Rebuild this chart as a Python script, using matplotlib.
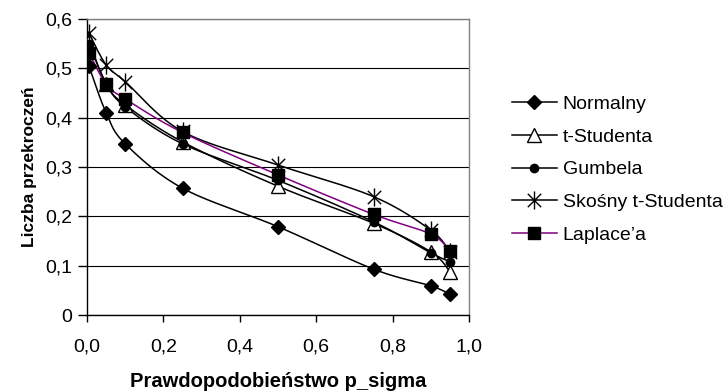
import numpy as np
import matplotlib
matplotlib.use("Agg")
import matplotlib.pyplot as plt
from matplotlib.path import Path
from matplotlib.ticker import FixedLocator, FuncFormatter

plt.rcParams['font.family'] = ['Liberation Sans', 'DejaVu Sans']

p_sigma = [0.005, 0.05, 0.1, 0.25, 0.5, 0.75, 0.9, 0.95]
normalny = [0.505, 0.410, 0.347, 0.257, 0.179, 0.093, 0.059, 0.042]
t_studenta = [0.555, 0.468, 0.426, 0.351, 0.261, 0.186, 0.128, 0.088]
gumbela = [0.550, 0.470, 0.422, 0.347, 0.273, 0.189, 0.126, 0.108]
skosny = [0.571, 0.507, 0.473, 0.372, 0.304, 0.240, 0.172, 0.128]
laplace = [0.532, 0.468, 0.438, 0.370, 0.284, 0.204, 0.164, 0.130]
labels = ["Normalny", "t-Studenta", "Gumbela", "Skośny t-Studenta", "Laplace\u2019a"]

SX, SY = 382.0, 493.0  # pixel scale used for smoothing


def smooth(xs, ys, n=30):
    P = np.column_stack([np.asarray(xs) * SX, np.asarray(ys) * SY])
    out = [P[0]]
    for i in range(len(P) - 1):
        p0 = P[i - 1] if i > 0 else P[i]
        p1, p2 = P[i], P[i + 1]
        p3 = P[i + 2] if i + 2 < len(P) else P[i + 1]
        c1 = p1 + (p2 - p0) / 6.0
        c2 = p2 - (p3 - p1) / 6.0
        t = np.linspace(0, 1, n)[1:, None]
        seg = ((1 - t) ** 3) * p1 + 3 * ((1 - t) ** 2) * t * c1 + 3 * (1 - t) * t ** 2 * c2 + t ** 3 * p2
        out.extend(seg)
    out = np.array(out)
    return out[:, 0] / SX, out[:, 1] / SY


ast = Path([(-1, -1), (1, 1), (-1, 1), (1, -1), (0, -1.35), (0, 1.35)],
           [Path.MOVETO, Path.LINETO, Path.MOVETO, Path.LINETO, Path.MOVETO, Path.LINETO])

series = [
    (normalny, dict(marker='D', ms=7, mfc='black', mec='black'), 'black'),
    (t_studenta, dict(marker='^', ms=10.5, mfc='white', mec='black', mew=1.0), 'black'),
    (gumbela, dict(marker='o', ms=6, mfc='black', mec='black'), 'black'),
    (skosny, dict(marker=ast, ms=13, mfc='none', mec='black', mew=1.0), 'black'),
    (laplace, dict(marker='s', ms=8, mfc='black', mec='black'), '#800080'),
]

fig = plt.figure(figsize=(7.27, 3.92), dpi=100)
ax = fig.add_axes([87 / 727, 1 - 315 / 392, (469 - 87) / 727, (315 - 19) / 392])

handles = []
for (ys, mk, col), lab in zip(series, labels):
    sx, sy = smooth(p_sigma, ys)
    ax.plot(sx, sy, color=col, lw=1.1, zorder=3)
    ax.plot(p_sigma, ys, ls='none', zorder=4, **mk)
    h, = ax.plot([], [], color=col, lw=1.1, **mk)
    handles.append(h)

ax.set_xlim(0, 1.0)
ax.set_ylim(0, 0.6)
ax.xaxis.set_major_locator(FixedLocator([0, 0.2, 0.4, 0.6, 0.8, 1.0]))
ax.yaxis.set_major_locator(FixedLocator([0, 0.1, 0.2, 0.3, 0.4, 0.5, 0.6]))
ax.xaxis.set_major_formatter(FuncFormatter(lambda v, p: f"{v:.1f}".replace('.', ',')))
ax.yaxis.set_major_formatter(FuncFormatter(lambda v, p: "0" if abs(v) < 1e-9 else f"{v:.1f}".replace('.', ',')))
ax.tick_params(axis='x', direction='out', length=5, width=1, labelsize=14, colors='black', pad=12)
ax.tick_params(axis='y', direction='out', length=6.5, width=1, labelsize=14, colors='black', pad=4)
ax.grid(axis='y', color='black', lw=0.8, zorder=1)
ax.set_axisbelow(True)
for s in ['left', 'bottom']:
    ax.spines[s].set_color('black')
    ax.spines[s].set_linewidth(1.0)
for s in ['top', 'right']:
    ax.spines[s].set_color('#808080')
    ax.spines[s].set_linewidth(1.0)

ax.set_xlabel("Prawdopodobieństwo p_sigma", fontsize=14.5, fontweight='bold', labelpad=12)
ax.set_ylabel("Liczba przekroczeń", fontsize=12.5, fontweight='bold', labelpad=6)

fig.legend(handles, labels, loc='center left', bbox_to_anchor=(512 / 727, 1 - 169.5 / 392),
           frameon=False, fontsize=14, handlelength=2.3, handletextpad=0.3,
           labelspacing=0.78, borderpad=0, borderaxespad=0)

fig.savefig("out.png", dpi=100)
